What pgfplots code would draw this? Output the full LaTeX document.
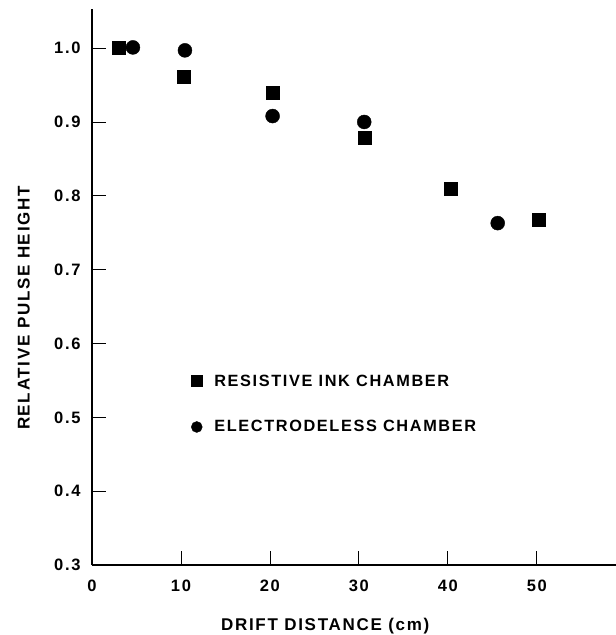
\documentclass[border=0pt]{standalone}
\usepackage{fontspec}
\setmainfont{Liberation Sans}[LetterSpace=10]
\usepackage{pgfplots}
\pgfplotsset{compat=1.18}

\begin{document}
\begin{tikzpicture}[x=1pt,y=1pt]
\path[use as bounding box] (-92,-70) rectangle (524,565);
\begin{axis}[
    at={(0,0)}, anchor=south west,
    scale only axis,
    width=524pt, height=556pt,
    xmin=0, xmax=58.9,
    ymin=0.3, ymax=1.053,
    axis lines=left,
    axis line style={-},
    x axis line style={line width=1.1pt},
    y axis line style={line width=1.8pt},
    xtick={0,10,20,30,40,50},
    ytick={0.3,0.4,0.5,0.6,0.7,0.8,0.9,1.0},
    tick align=inside,
    major tick length=14pt,
    tick style={black, line width=0.8pt},
    /pgf/number format/assume math mode=true,
    ticklabel style={font=\fontsize{16.5}{18}\selectfont\bfseries},
    xticklabel style={yshift=-11pt},
    yticklabel style={xshift=-8pt, /pgf/number format/.cd, fixed, fixed zerofill, precision=1},
    xlabel={DRIFT DISTANCE (cm)},
    ylabel={RELATIVE PULSE HEIGHT},
    label style={font=\fontsize{17}{19}\selectfont\bfseries},
    xlabel style={at={(axis description cs:0.445,-0.110)}, anchor=center},
    ylabel style={at={(axis description cs:-0.130,0.462)}, anchor=center},
    legend style={draw=none, fill=none, at={(axis cs:10.8,0.518)}, anchor=west,
        font=\fontsize{16.3}{18}\selectfont\bfseries, row sep=29pt},
    legend cell align=left,
    legend image code/.code={\draw[#1, mark size=5.5pt] plot coordinates {(0pt,0pt)};},
    /tikz/every odd column/.style={column sep=10pt},
]

% resistive ink chamber
\addplot[only marks, mark=square*, mark size=6.5pt, black] coordinates {
    (3.0,1.001) (10.3,0.961) (20.3,0.939) (30.6,0.879) (40.3,0.809) (50.2,0.768)
};
\addlegendentry{RESISTIVE INK CHAMBER}

% electrodeless chamber
\addplot[only marks, mark=*, mark size=7pt, black] coordinates {
    (4.6,1.001) (10.45,0.997) (20.3,0.908) (30.6,0.900) (45.6,0.763)
};
\addlegendentry{ELECTRODELESS CHAMBER}

\end{axis}
\end{tikzpicture}
\end{document}
